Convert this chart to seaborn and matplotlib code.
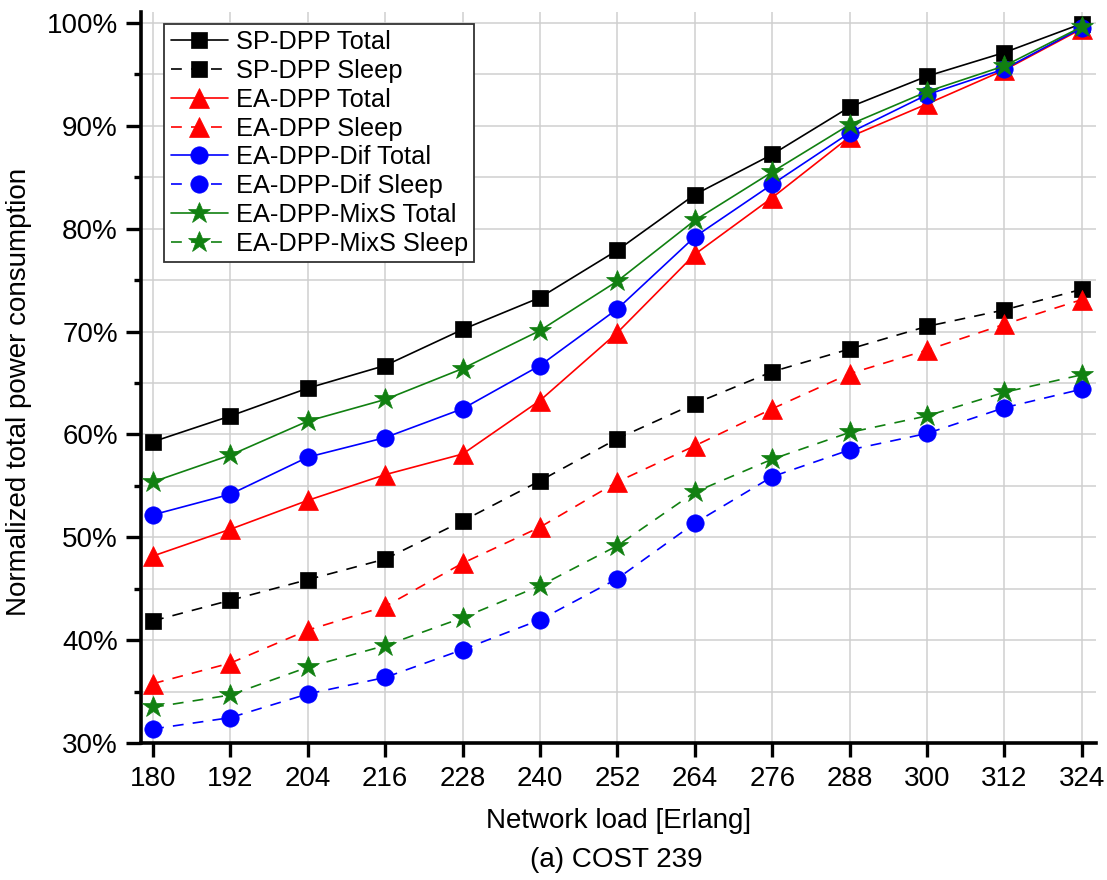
import matplotlib
matplotlib.use("Agg")
import matplotlib.pyplot as plt
from matplotlib.ticker import MultipleLocator, FuncFormatter
import numpy as np
import pandas as pd
import seaborn as sns

# Network load values (Erlang)
load = [180, 192, 204, 216, 228, 240, 252, 264, 276, 288, 300, 312, 324]

# Normalized total power consumption (%)
sp_dpp_total = [59.3, 61.8, 64.5, 66.7, 70.2, 73.3, 77.9, 83.3, 87.2, 91.8, 94.8, 97.1, 99.9]
sp_dpp_sleep = [41.9, 43.9, 45.9, 47.9, 51.6, 55.5, 59.6, 63.0, 66.1, 68.3, 70.5, 72.1, 74.1]
ea_dpp_total = [48.2, 50.8, 53.6, 56.1, 58.1, 63.3, 69.9, 77.5, 83.0, 88.9, 92.1, 95.4, 99.4]
ea_dpp_sleep = [35.8, 37.8, 41.0, 43.3, 47.5, 51.0, 55.4, 58.9, 62.5, 65.9, 68.2, 70.7, 73.1]
dif_total = [52.2, 54.2, 57.8, 59.7, 62.5, 66.7, 72.2, 79.2, 84.3, 89.3, 93.0, 95.5, 99.5]
dif_sleep = [31.4, 32.5, 34.8, 36.4, 39.1, 42.0, 46.0, 51.4, 55.9, 58.5, 60.1, 62.6, 64.4]
mixs_total = [55.4, 58.0, 61.3, 63.4, 66.4, 70.1, 74.9, 80.8, 85.5, 90.1, 93.3, 95.8, 99.6]
mixs_sleep = [33.5, 34.7, 37.4, 39.5, 42.2, 45.3, 49.2, 54.4, 57.6, 60.2, 61.8, 64.1, 65.8]

labels = ["SP-DPP Total", "SP-DPP Sleep", "EA-DPP Total", "EA-DPP Sleep",
          "EA-DPP-Dif Total", "EA-DPP-Dif Sleep", "EA-DPP-MixS Total", "EA-DPP-MixS Sleep"]
series = [sp_dpp_total, sp_dpp_sleep, ea_dpp_total, ea_dpp_sleep,
          dif_total, dif_sleep, mixs_total, mixs_sleep]

colors = ["black", "black", "#ff0000", "#ff0000", "#0000ff", "#0000ff", "#118011", "#118011"]
markers = ["s", "s", "^", "^", "o", "o", "*", "*"]
msizes = [11.5, 11.5, 14, 14, 12.5, 12.5, 16.5, 16.5]
dashed = (0, (6.5, 5.5))
styles = ["-", dashed, "-", dashed, "-", dashed, "-", dashed]

df = pd.DataFrame({"load": np.tile(load, len(labels)),
                   "value": np.concatenate(series),
                   "series": np.repeat(labels, len(load))})

sns.set_style("whitegrid")
plt.rcParams["font.family"] = ["Liberation Sans", "DejaVu Sans"]
plt.rcParams["text.color"] = "black"
plt.rcParams["axes.labelcolor"] = "black"
plt.rcParams["xtick.color"] = "black"
plt.rcParams["ytick.color"] = "black"

fig = plt.figure(figsize=(11.07, 8.8), dpi=100)
ax = fig.add_axes([0.1278, 0.1553, 0.990 - 0.1278, 0.9864 - 0.1553])

for lab, col, mk, ms, ls in zip(labels, colors, markers, msizes, styles):
    sub = df[df["series"] == lab]
    sns.lineplot(data=sub, x="load", y="value", color=col, marker=mk,
                 markersize=ms, markeredgecolor=col, markeredgewidth=0.5,
                 linestyle=ls, linewidth=1.2, label=lab, ax=ax, zorder=3)

ax.set_xlim(178.2, 326.2)
ax.set_ylim(30, 101.04)
ax.set_xticks(load)
ax.yaxis.set_major_locator(MultipleLocator(10))
ax.yaxis.set_minor_locator(MultipleLocator(5))
ax.yaxis.set_major_formatter(FuncFormatter(lambda v, _: f"{v:.0f}%"))

ax.grid(True, which="both", color="#cfcfcf", linewidth=1.1)
ax.set_axisbelow(True)

for side in ["top", "right"]:
    ax.spines[side].set_visible(False)
for side in ["left", "bottom"]:
    ax.spines[side].set_visible(True)
    ax.spines[side].set_color("black")
    ax.spines[side].set_linewidth(2.6)

ax.tick_params(axis="y", which="major", direction="out", length=11, width=2.4,
               color="black", labelcolor="black", labelsize=20, pad=6, left=True)
ax.tick_params(axis="y", which="minor", direction="out", length=5, width=2.4,
               color="black", left=True)
ax.tick_params(axis="x", which="major", direction="out", length=10, width=2.4,
               color="black", labelcolor="black", labelsize=20, pad=6, bottom=True)

ax.set_xlabel("Network load [Erlang]", fontsize=20, labelpad=12, color="black")
ax.set_ylabel("Normalized total power consumption", fontsize=20, labelpad=8, color="black")
ax.yaxis.set_label_coords(-0.115, 0.48)

leg = ax.legend(loc="upper left", bbox_to_anchor=(0.024, 0.984), borderaxespad=0,
                fontsize=18.3, frameon=True, fancybox=False, framealpha=1,
                edgecolor="#333333", handlelength=2.25, handletextpad=0.3,
                labelspacing=0.19, borderpad=0.25, numpoints=1)
leg.get_frame().set_linewidth(1.3)
for t in leg.get_texts():
    t.set_color("black")

fig.text(0.5565, 1 - 860 / 880, "(a) COST 239", ha="center", va="center",
         fontsize=20, color="black")

fig.savefig("out.png", dpi=100)
